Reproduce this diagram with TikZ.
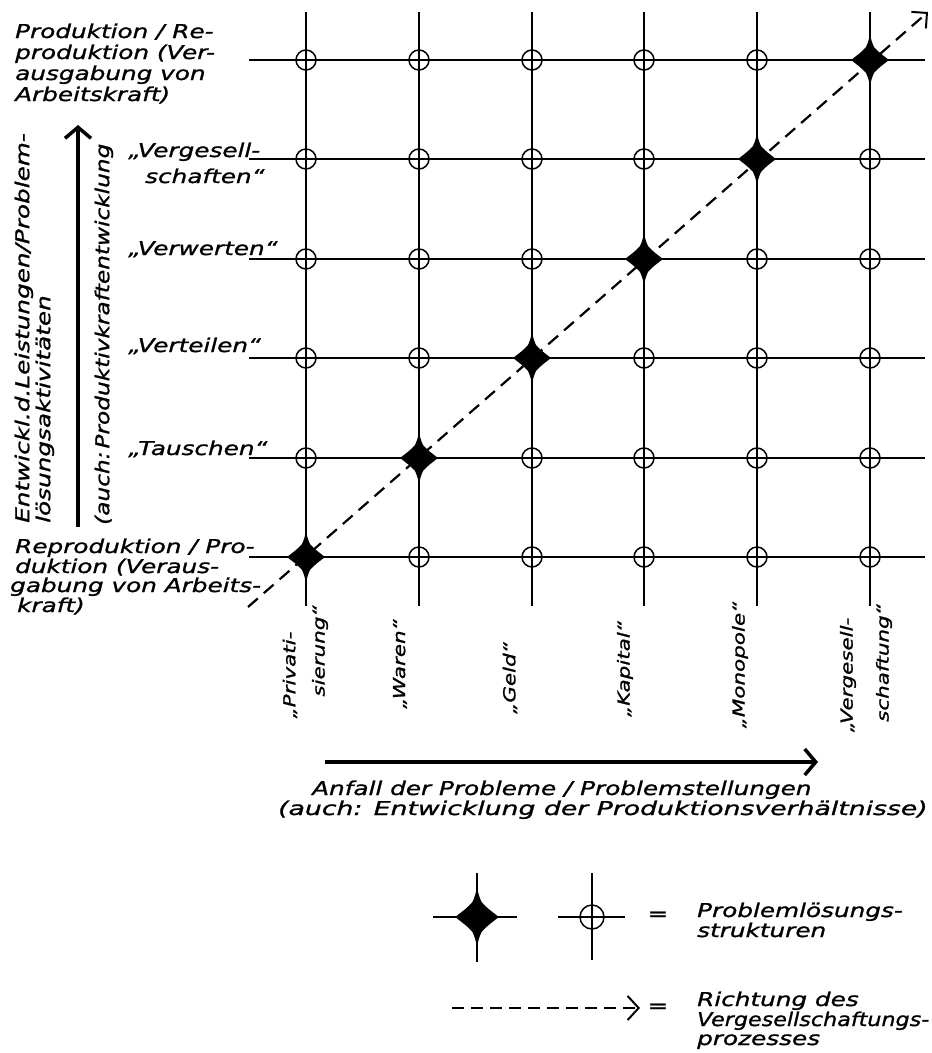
\documentclass[tikz,border=0pt]{standalone}
\usepackage{fontspec}
\usepackage{graphicx}
\newfontfamily\hand[FakeStretch=1.3,FakeBold=1.2]{DejaVu Sans}
\usetikzlibrary{arrows.meta}
\tikzset{
  lbl/.style={font=\hand\itshape\fontsize{19}{21}\selectfont, inner sep=0pt, anchor=base west},
  rlbl/.style={font=\hand\itshape\fontsize{19}{21}\selectfont, inner sep=0pt, rotate=90, anchor=mid west},
  clbl/.style={font=\hand\itshape\fontsize{16.5}{18}\selectfont, inner sep=0pt, rotate=90, anchor=center},
  gridline/.style={line width=1.8pt, black},
  ring/.style={line width=1.5pt, black},
  diag/.style={line width=2.2pt, dash pattern=on 13pt off 8pt, -{Straight Barb[length=11pt,width=22pt,line width=2pt]}},
  axisarrow/.style={line width=4pt, -{Straight Barb[length=11pt,width=26pt,line width=3.5pt]}},
  fstar/.pic={\fill[black] (19,0)
      .. controls (14,4) and (8,8) .. (4,13) .. controls (2,17) and (1,21) .. (0,26)
      .. controls (-1,21) and (-2,17) .. (-4,13) .. controls (-8,8) and (-14,4) .. (-19,0)
      .. controls (-14,-4) and (-8,-8) .. (-4,-13) .. controls (-2,-17) and (-1,-21) .. (0,-26)
      .. controls (1,-21) and (2,-17) .. (4,-13) .. controls (8,-8) and (14,-4) .. (19,0) -- cycle;}
}
\begin{document}
\begin{tikzpicture}[x=1pt,y=-1pt]
\useasboundingbox (0,0) rectangle (932,1053);

% grid lines
\foreach \i/\x in {0/306,1/419,2/532,3/644,4/757,5/870}{
  \coordinate (vt\i) at (\x,12);
  \coordinate (vb\i) at (\x,606);
  \draw[gridline] (vb\i) -- (vt\i);
}
\foreach \j/\y in {0/557,1/458,2/358,3/259,4/159,5/60}{
  \coordinate (hl\j) at (249,\y);
  \coordinate (hr\j) at (925,\y);
  \draw[gridline] (hl\j) -- (hr\j);
}

% diagonal direction
\coordinate (ds) at (248,607);
\coordinate (de) at (928,12);
\draw[diag] (ds) -- (de);

% intersections
\foreach \i in {0,...,5}{
  \foreach \j in {0,...,5}{
    \coordinate (n\i\j) at (vt\i |- hl\j);
    \ifnum\i=\j
      \pic at (n\i\j) {fstar};
    \else
      \draw[ring] (n\i\j) circle[radius=10];
    \fi
  }
}

% top-left label
\node[lbl] (tl1) at (15,38) {Produktion / Re-};
\node[lbl] (tl2) at (15,59) {produktion (Ver-};
\node[lbl] (tl3) at (15,80) {ausgabung von};
\node[lbl] (tl4) at (15,101) {Arbeitskraft)};

% row labels
\node[lbl] (r5a) at (128,157) {„Vergesell-};
\node[lbl] (r5b) at (145,183) {schaften“};
\node[lbl] (r3) at (128,255) {„Verwerten“};
\node[lbl] (r2) at (128,352) {„Verteilen“};
\node[lbl] (r1) at (128,455) {„Tauschen“};

% bottom-left label
\node[lbl] (bl1) at (15,553) {Reproduktion / Pro-};
\node[lbl] (bl2) at (15,573) {duktion (Veraus-};
\node[lbl] (bl3) at (10,592) {gabung von Arbeits-};
\node[lbl] (bl4) at (17,612) {kraft)};

% vertical axis
\coordinate (va0) at (78,527);
\coordinate (va1) at (78,125);
\draw[axisarrow] (va0) -- (va1);
\node[rlbl] (vl1) at (27,523) {Entwickl.d.Leistungen/Problem-};
\node[rlbl] (vl2) at (48,523) {lösungsaktivitäten};
\node[rlbl] (vl3) at (107,525) {\scalebox{0.94}[1]{(auch:\,Produktivkraftentwicklung}};

% column labels
\node[clbl] (c0a) at (290,675) {„Privati-};
\node[clbl] (c0b) at (320,651) {sierung“};
\node[clbl] (c1) at (400,664) {„Waren“};
\node[clbl] (c2) at (510,678) {„Geld“};
\node[clbl] (c3) at (625,669) {„Kapital“};
\node[clbl] (c4) at (740,665) {„Monopole“};
\node[clbl] (c5a) at (848,675) {„Vergesell-};
\node[clbl] (c5b) at (884,663) {schaftung“};

% horizontal axis
\coordinate (ha0) at (325,762);
\coordinate (ha1) at (818,762);
\draw[axisarrow] (ha0) -- (ha1);
\node[lbl] (hx1) at (312,795) {Anfall der Probleme / Problemstellungen};
\node[lbl] (hx2) at (278,815) {\scalebox{1.08}[1]{(auch: Entwicklung der Produktionsverhältnisse)}};

% legend
\coordinate (ls) at (477,917);
\coordinate (lsl) at (433,917);
\coordinate (lsr) at (517,917);
\coordinate (lst) at (477,873);
\coordinate (lsb) at (477,962);
\draw[gridline] (lsl) -- (lsr);
\draw[gridline] (lst) -- (lsb);
\pic[scale=1.15] at (ls) {fstar};

\coordinate (lc) at (592,917);
\coordinate (lcl) at (558,917);
\coordinate (lcr) at (625,917);
\coordinate (lct) at (592,873);
\coordinate (lcb) at (592,960);
\draw[gridline] (lcl) -- (lcr);
\draw[gridline] (lct) -- (lcb);
\draw[ring] (lc) circle[radius=12];

\node[lbl, anchor=center] (eq1) at (658,916) {=};
\node[lbl] (lg1) at (697,917) {Problemlösungs-};
\node[lbl] (lg2) at (697,937) {strukturen};

\coordinate (ld0) at (452,1008);
\coordinate (ld1) at (640,1008);
\draw[line width=2pt, dash pattern=on 12pt off 7pt, -{Straight Barb[length=11pt,width=24pt,line width=2pt]}] (ld0) -- (ld1);
\node[lbl, anchor=center] (eq2) at (658,1008) {=};
\node[lbl] (lg3) at (697,1006) {Richtung des};
\node[lbl] (lg4) at (697,1026) {\scalebox{0.9}[1]{Vergesellschaftungs-}};
\node[lbl] (lg5) at (697,1045) {prozesses};
\end{tikzpicture}
\end{document}
